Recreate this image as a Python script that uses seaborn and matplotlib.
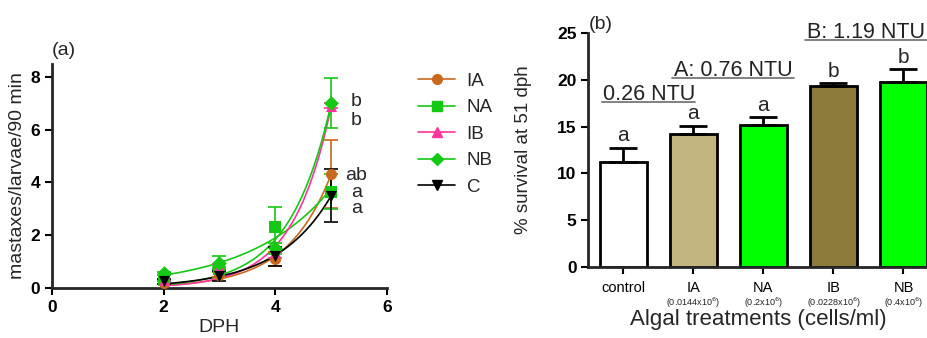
import numpy as np
import pandas as pd
import matplotlib
matplotlib.use("Agg")
import matplotlib.pyplot as plt
import seaborn as sns
from matplotlib.lines import Line2D

sns.set_style("ticks")
plt.rcParams['font.family'] = ['Liberation Sans', 'DejaVu Sans']

# ---------------- data: panel (a) ----------------
dph = [2, 3, 4, 5]
series_names = ["IA", "NA", "IB", "NB", "C"]
ia_vals = [0.2, 0.5, 1.1, 4.32]
na_vals = [0.3, 0.7, 2.3, 3.65]
ib_vals = [0.3, 0.8, 1.35, 6.9]
nb_vals = [0.55, 0.95, 1.5, 7.02]
c_vals = [0.25, 0.45, 1.2, 3.5]
ia_err = [0.05, 0.1, 0.25, 1.3]
na_err = [0.05, 0.1, 0.75, 0.65]
ib_err = [0.05, 0.1, 0.2, 0.1]
nb_err = [0.05, 0.25, 0.2, 0.95]
c_err = [0.1, 0.2, 0.35, 1.0]
sig_a_labels = ["b", "b", "ab", "a", "a"]
sig_a_y = [7.05, 6.35, 4.25, 3.6, 3.0]

# ---------------- data: panel (b) ----------------
treatments = ["control", "IA", "NA", "IB", "NB"]
densities = ["", r"(0.0144x10$^6$)", r"(0.2x10$^6$)", r"(0.0228x10$^6$)", r"(0.4x10$^6$)"]
survival = [11.25, 14.25, 15.15, 19.35, 19.75]
survival_err = [1.5, 0.85, 0.9, 0.3, 1.4]
sig_b = ["a", "a", "a", "b", "b"]
ntu_labels = ["0.26 NTU", "A: 0.76 NTU", "B: 1.19 NTU"]

colors_a = {"IA": "#C8691C", "NA": "#14C814", "IB": "#FF3399", "NB": "#14C814", "C": "#000000"}
markers_a = {"IA": "o", "NA": "s", "IB": "^", "NB": "D", "C": "v"}
msize = {"IA": 8, "NA": 8, "IB": 8, "NB": 7.5, "C": 8}
bar_colors = ["#FFFFFF", "#C2B57F", "#00FF00", "#8B7A3A", "#00FF00"]


def expfit(x, y):
    x = np.asarray(x, float)
    y = np.asarray(y, float)
    best = None
    for b in np.linspace(0.05, 3.0, 2951):
        e = np.exp(b * x)
        a = (y @ e) / (e @ e)
        sse = ((y - a * e) ** 2).sum()
        if best is None or sse < best[0]:
            best = (sse, a, b)
    return best[1], best[2]


fig = plt.figure(figsize=(9.28, 3.38), dpi=100)

# ---------------- panel (a) ----------------
ax1 = fig.add_axes([0.056, 0.148, 0.361, 0.664])
vals = {"IA": ia_vals, "NA": na_vals, "IB": ib_vals, "NB": nb_vals, "C": c_vals}
errs = {"IA": ia_err, "NA": na_err, "IB": ib_err, "NB": nb_err, "C": c_err}
rows = []
for s in series_names:
    for d, v in zip(dph, vals[s]):
        rows.append({"DPH": d, "value": v, "series": s})
df_a = pd.DataFrame(rows)

for s in series_names:
    a, b = expfit(dph, vals[s])
    xx = np.linspace(min(dph), max(dph), 200)
    ax1.plot(xx, a * np.exp(b * xx), color=colors_a[s], lw=1.2, zorder=2)
    ax1.errorbar(dph, vals[s], yerr=errs[s], fmt="none", ecolor=colors_a[s],
                 elinewidth=1.2, capsize=5, capthick=1.2, zorder=3)
for s in series_names:
    sub = df_a[df_a["series"] == s]
    sns.scatterplot(data=sub, x="DPH", y="value", ax=ax1, color=colors_a[s],
                    marker=markers_a[s], s=msize[s] ** 2, edgecolor=colors_a[s],
                    linewidth=0, zorder=4, legend=False)

for lab, yv in zip(sig_a_labels, sig_a_y):
    ax1.text(5.45, yv, lab, fontsize=14, ha="center", va="center")

ax1.set_xlim(0, 6)
ax1.set_ylim(0, 8.5)
ax1.set_xticks([0, 2, 4, 6])
ax1.set_yticks([0, 2, 4, 6, 8])
for sp in ["top", "right"]:
    ax1.spines[sp].set_visible(False)
for sp in ["left", "bottom"]:
    ax1.spines[sp].set_linewidth(2)
ax1.tick_params(width=1.5, length=5, labelsize=12.5, colors="black")
for t in ax1.get_xticklabels() + ax1.get_yticklabels():
    t.set_fontweight("bold")
ax1.set_xlabel("DPH", fontsize=14, labelpad=3)
ax1.set_ylabel("mastaxes/larvae/90 min", fontsize=14, labelpad=3)
ax1.text(0.0, 1.02, "(a)", transform=ax1.transAxes, fontsize=14, ha="left", va="bottom")

handles = [Line2D([0], [0], color=colors_a[s], marker=markers_a[s], markersize=msize[s] - 1,
                  lw=1.2) for s in series_names]
fig.legend(handles, series_names, loc="upper left", bbox_to_anchor=(0.432, 0.835),
           frameon=False, fontsize=13.5, handlelength=2.0, labelspacing=0.5,
           handletextpad=0.6)

# ---------------- panel (b) ----------------
ax2 = fig.add_axes([0.634, 0.21, 0.366, 0.692])
df_b = pd.DataFrame({"treatment": treatments, "survival": survival})
sns.barplot(data=df_b, x="treatment", y="survival", hue="treatment",
            palette=bar_colors, saturation=1, legend=False, ax=ax2, width=0.67,
            edgecolor="black", linewidth=2, errorbar=None)
xs = np.arange(len(treatments))
ax2.errorbar(xs, survival, yerr=[np.zeros(len(xs)), survival_err], fmt="none",
             ecolor="black", elinewidth=2, capsize=10, capthick=2, zorder=5)
for i in range(len(xs)):
    ax2.text(xs[i], survival[i] + survival_err[i] + 0.25, sig_b[i], fontsize=15,
             ha="center", va="bottom")

ntu_x = [0.365, 1.565, 3.47]
ntu_y = [17.6, 20.2, 24.25]
for lab, xv, yv in zip(ntu_labels, ntu_x, ntu_y):
    ax2.annotate(lab, xy=(xv, yv + 0.25), fontsize=15.5, ha="center", va="baseline",
                 color="#222222", annotation_clip=False)
ntu_ranges = [(-0.3, 1.03), (0.7, 2.43), (2.6, 4.34)]
for (x0, x1), yv in zip(ntu_ranges, ntu_y):
    ax2.plot([x0, x1], [yv, yv], color="#777777", lw=1.3, clip_on=False)

ax2.set_xlim(-0.5, 4.35)
ax2.set_ylim(0, 25)
ax2.set_yticks([0, 5, 10, 15, 20, 25])
for sp in ["top", "right"]:
    ax2.spines[sp].set_visible(False)
for sp in ["left", "bottom"]:
    ax2.spines[sp].set_linewidth(2)
ax2.tick_params(axis="y", width=1.5, length=5, labelsize=12.5, colors="black")
ax2.tick_params(axis="x", width=1.5, length=5, labelsize=10.5, pad=5, colors="black")
for t in ax2.get_yticklabels():
    t.set_fontweight("bold")
ax2.set_xticks(xs)
ax2.set_xticklabels(treatments)
for i, dlab in enumerate(densities):
    if dlab:
        ax2.annotate(dlab, xy=(xs[i], 0), xycoords=("data", "axes fraction"),
                     xytext=(0, -26), textcoords="offset points", fontsize=6.5,
                     ha="center", va="center", color="#222222", annotation_clip=False)
ax2.set_xlabel("Algal treatments (cells/ml)", fontsize=16, labelpad=10)
ax2.set_ylabel("% survival at 51 dph", fontsize=13.5, labelpad=18)
ax2.text(0.0, 1.0, "(b)", transform=ax2.transAxes, fontsize=14, ha="left", va="bottom")

fig.savefig("out.png", dpi=100)
